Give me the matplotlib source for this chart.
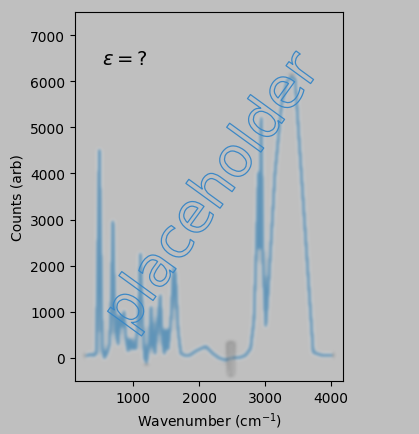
import numpy as np
import matplotlib
matplotlib.use('Agg')
import matplotlib.pyplot as plt
import matplotlib.patheffects as pe

# spectrum
wavenumber = [300, 350, 400, 440, 470, 485, 500, 530, 560, 600, 640, 670, 690, 710,
              740, 770, 800, 830, 860, 890, 920, 960, 1000, 1040, 1080, 1110, 1140,
              1170, 1200, 1240, 1270, 1300, 1330, 1370, 1410, 1440, 1470, 1500, 1530,
              1570, 1610, 1640, 1680, 1720, 1780, 1850, 1950, 2100, 2200, 2300, 2400,
              2500, 2600, 2700, 2780, 2830, 2870, 2900, 2920, 2940, 2970, 3010, 3050,
              3150, 3250, 3330, 3400, 3455, 3730, 3850, 4000]
counts = [50, 80, 50, 100, 3000, 4500, 3000, 200, 0, 100, 300, 1500, 2950, 1500,
          500, 300, 900, 700, 1000, 400, 150, 400, 200, 200, 1000, 2250, 800,
          0, -100, 300, 1100, 300, 100, 800, 1350, 400, 100, 600, 200,
          800, 1950, 1800, 600, 100, 50, 50, 150, 250, 100, 0, -50,
          0, 0, 50, 200, 800, 2500, 4000, 2400, 5200, 2000, 700, 1500,
          4000, 5500, 6000, 6100, 6050, 120, 60, 60]

# gray noisy bit near 2500
co2_x = [2450, 2465, 2480, 2495, 2510]
co2_y = [300, -350, 300, -350, 300]

bg = '#bfbfbf'


def gauss_blur(sigma, pad=12):
    xs = np.arange(-pad, pad + 1)
    k = np.exp(-xs ** 2 / (2.0 * sigma ** 2))
    k = k / k.sum()

    def filt(im, dpi):
        a = np.pad(im, ((pad, pad), (pad, pad), (0, 0)))
        out = np.zeros_like(a)
        for i, w in zip(xs, k):
            out += w * np.roll(a, i, axis=0)
        out2 = np.zeros_like(out)
        for i, w in zip(xs, k):
            out2 += w * np.roll(out, i, axis=1)
        return out2, -pad, -pad
    return filt


fig = plt.figure(figsize=(4.19, 4.35), dpi=100, facecolor=bg)
ax = fig.add_axes([0.179, 0.122, 0.640, 0.848], facecolor=bg)

line, = ax.plot(wavenumber, counts, color='#1f77b4', lw=3, alpha=0.6)
line.set_agg_filter(gauss_blur(1.8))
line2, = ax.plot(co2_x, co2_y, color='#8a8a8a', lw=2.5, alpha=0.5)
line2.set_agg_filter(gauss_blur(1.8))

ax.set_xlim(115, 4185)
ax.set_ylim(-500, 7500)
ax.set_xticks([1000, 2000, 3000, 4000])
ax.set_yticks(range(0, 8000, 1000))
ax.set_xlabel('Wavenumber (cm$^{-1}$)')
ax.set_ylabel('Counts (arb)')

ax.text(0.1, 0.9, r'$\varepsilon = ?$', transform=ax.transAxes, fontsize=14,
        va='top', ha='left')

fig.text(0.508, 0.555, 'placeholder', fontsize=40, rotation=54,
         ha='center', va='center', color='none',
         path_effects=[pe.Stroke(linewidth=0.9, foreground='#3c88c6'), pe.Normal()])

fig.savefig('out.png', dpi=100, facecolor=bg)
